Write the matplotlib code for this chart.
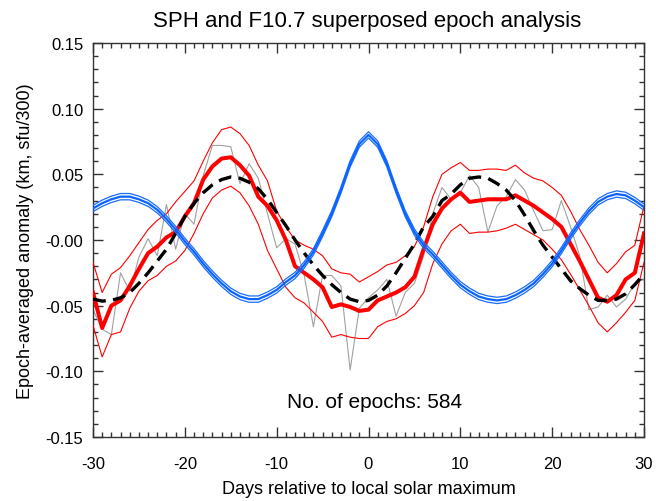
import matplotlib
matplotlib.use("Agg")
import matplotlib.pyplot as plt
import numpy as np
from matplotlib.ticker import MultipleLocator, FixedLocator, FixedFormatter

plt.rcParams['font.family'] = ['Liberation Sans', 'DejaVu Sans']

days = list(range(-30, 31))

# F10.7 epoch average (blue bundle, centre line)
f107 = [0.024, 0.028, 0.031, 0.033, 0.033, 0.031, 0.028, 0.023, 0.016, 0.008,
        -0.001, -0.009, -0.018, -0.026, -0.033, -0.039, -0.043, -0.045, -0.045, -0.042,
        -0.038, -0.032, -0.027, -0.019, -0.009, 0.005, 0.020, 0.038, 0.058, 0.073,
        0.080,
        0.073, 0.058, 0.038, 0.020, 0.006, -0.004, -0.011, -0.019, -0.027, -0.034,
        -0.039, -0.043, -0.045, -0.046, -0.045, -0.042, -0.038, -0.033, -0.026, -0.018,
        -0.008, 0.003, 0.013, 0.022, 0.029, 0.033, 0.035, 0.034, 0.030, 0.025]
f107_err = 0.0024

# fitted sinusoid (black dashed)
fit = [-0.045, -0.0465, -0.046, -0.044, -0.040, -0.033, -0.025, -0.016, -0.007, 0.005,
       0.018, 0.028, 0.036, 0.042, 0.046, 0.048, 0.047, 0.044, 0.039, 0.031,
       0.021, 0.011, 0.000, -0.010, -0.019, -0.027, -0.034, -0.040, -0.045, -0.047,
       -0.046,
       -0.042, -0.035, -0.025, -0.014, -0.003, 0.010, 0.018, 0.030, 0.035, 0.042,
       0.047, 0.048, 0.047, 0.043, 0.038, 0.030, 0.019, 0.007, -0.004, -0.013,
       -0.022, -0.031, -0.037, -0.042, -0.046, -0.046, -0.045, -0.041, -0.034, -0.026]

# SPH epoch average (thick red)
sph = [-0.040, -0.067, -0.050, -0.046, -0.035, -0.022, -0.010, -0.005, 0.002, 0.006,
       0.018, 0.028, 0.046, 0.056, 0.062, 0.063, 0.057, 0.049, 0.033, 0.026,
       0.015, 0.000, -0.020, -0.025, -0.030, -0.036, -0.051, -0.049, -0.051, -0.054,
       -0.053,
       -0.046, -0.043, -0.040, -0.036, -0.028, -0.007, 0.012, 0.024, 0.031, 0.036,
       0.029, 0.030, 0.031, 0.031, 0.031, 0.034, 0.030, 0.026, 0.021, 0.016,
       0.010, -0.003, -0.016, -0.030, -0.044, -0.047, -0.042, -0.030, -0.025, 0.005]

sph_upper = [-0.017, -0.040, -0.026, -0.021, -0.012, -0.002, 0.008, 0.015, 0.020, 0.029,
             0.037, 0.045, 0.060, 0.074, 0.084, 0.086, 0.081, 0.072, 0.057, 0.045,
             0.022, 0.010, 0.000, -0.004, -0.007, -0.012, -0.022, -0.025, -0.026, -0.032,
             -0.028,
             -0.024, -0.019, -0.017, -0.012, -0.005, 0.010, 0.033, 0.050, 0.055, 0.059,
             0.053, 0.053, 0.054, 0.054, 0.053, 0.057, 0.051, 0.047, 0.045, 0.040,
             0.034, 0.022, 0.008, -0.004, -0.017, -0.025, -0.018, -0.009, -0.004, 0.026]

sph_lower = [-0.065, -0.089, -0.072, -0.070, -0.052, -0.039, -0.031, -0.027, -0.020, -0.016,
             -0.008, 0.005, 0.020, 0.032, 0.038, 0.041, 0.036, 0.026, 0.012, -0.008,
             -0.022, -0.036, -0.044, -0.048, -0.055, -0.062, -0.074, -0.072, -0.074, -0.075,
             -0.075,
             -0.066, -0.062, -0.060, -0.056, -0.050, -0.040, -0.018, -0.003, 0.007, 0.012,
             0.005, 0.006, 0.006, 0.007, 0.009, 0.012, 0.008, 0.004, 0.000, -0.007,
             -0.015, -0.026, -0.038, -0.050, -0.063, -0.070, -0.063, -0.055, -0.046, -0.017]

# raw SPH (thin gray)
sph_raw = [-0.053, -0.068, -0.072, -0.025, -0.039, -0.013, 0.001, -0.012, 0.027, -0.007,
           0.020, 0.012, 0.049, 0.072, 0.072, 0.071, 0.043, 0.058, 0.047, 0.020,
           -0.006, 0.001, -0.003, -0.027, -0.066, -0.027, -0.027, -0.035, -0.099, -0.052,
           -0.044,
           -0.038, -0.030, -0.058, -0.040, -0.033, -0.012, 0.020, 0.040, 0.031, 0.036,
           0.049, 0.040, 0.006, 0.026, 0.033, 0.046, 0.038, 0.022, 0.007, 0.008,
           0.030, 0.010, -0.012, -0.053, -0.051, -0.042, -0.051, -0.045, -0.033, -0.030]

xticks = [-30, -20, -10, 0, 10, 20, 30]
xtick_labels = ['-30', '-20', '-10', '0', '10', '20', '30']
yticks = [-0.15, -0.10, -0.05, 0.0, 0.05, 0.10, 0.15]
ytick_labels = ['-0.15', '-0.10', '-0.05', '-0.00', '0.05', '0.10', '0.15']

fig = plt.figure(figsize=(6.56, 5.02), dpi=100)
ax = fig.add_axes([93/656, 1-438/502, 551/656, 394/502])

d = np.array(days)
f = np.array(f107)
ax.plot(d, sph_raw, color='#a0a0a0', lw=0.8, zorder=2)
ax.plot(d, sph_upper, color='#ff0000', lw=0.8, zorder=3)
ax.plot(d, sph_lower, color='#ff0000', lw=0.8, zorder=3)
ax.plot(d, sph, color='#ff0000', lw=2.9, zorder=4)
ax.plot(d, fit, color='black', lw=2.4, dashes=(3.9, 2.2), zorder=5)
ax.plot(d, f + f107_err, color='#1a6cff', lw=0.9, zorder=6)
ax.plot(d, f - f107_err, color='#1a6cff', lw=0.9, zorder=6)
ax.plot(d, f, color='#0a64ff', lw=1.6, zorder=6)

ax.set_xlim(-30, 30)
ax.set_ylim(-0.15, 0.15)
ax.xaxis.set_major_locator(FixedLocator(xticks))
ax.xaxis.set_major_formatter(FixedFormatter(xtick_labels))
ax.xaxis.set_minor_locator(MultipleLocator(1))
ax.yaxis.set_major_locator(FixedLocator(yticks))
ax.yaxis.set_major_formatter(FixedFormatter(ytick_labels))
ax.yaxis.set_minor_locator(MultipleLocator(0.01))

ax.tick_params(which='both', direction='in', top=True, right=True, colors='#333333',
               labelcolor='black', labelsize=12)
ax.tick_params(axis='x', which='major', length=7, width=1, pad=14)
ax.tick_params(axis='x', which='minor', length=3.5, width=1)
ax.tick_params(axis='y', which='major', length=7, width=1, pad=7)
ax.tick_params(axis='y', which='minor', length=3.5, width=1)
for s in ax.spines.values():
    s.set_linewidth(1.0)
    s.set_color('#333333')

ax.set_xlabel('Days relative to local solar maximum', fontsize=13, labelpad=6)
ax.set_ylabel('Epoch-averaged anomaly (km, sfu/300)', fontsize=13, labelpad=8)
fig.text(0.5 + 0.06, 1 - 21/502, 'SPH and F10.7 superposed epoch analysis',
         ha='center', va='center', fontsize=16)
ax.text(0.7, -0.123, 'No. of epochs: 584', ha='center', va='center', fontsize=15)

fig.savefig('out.png', dpi=100)
